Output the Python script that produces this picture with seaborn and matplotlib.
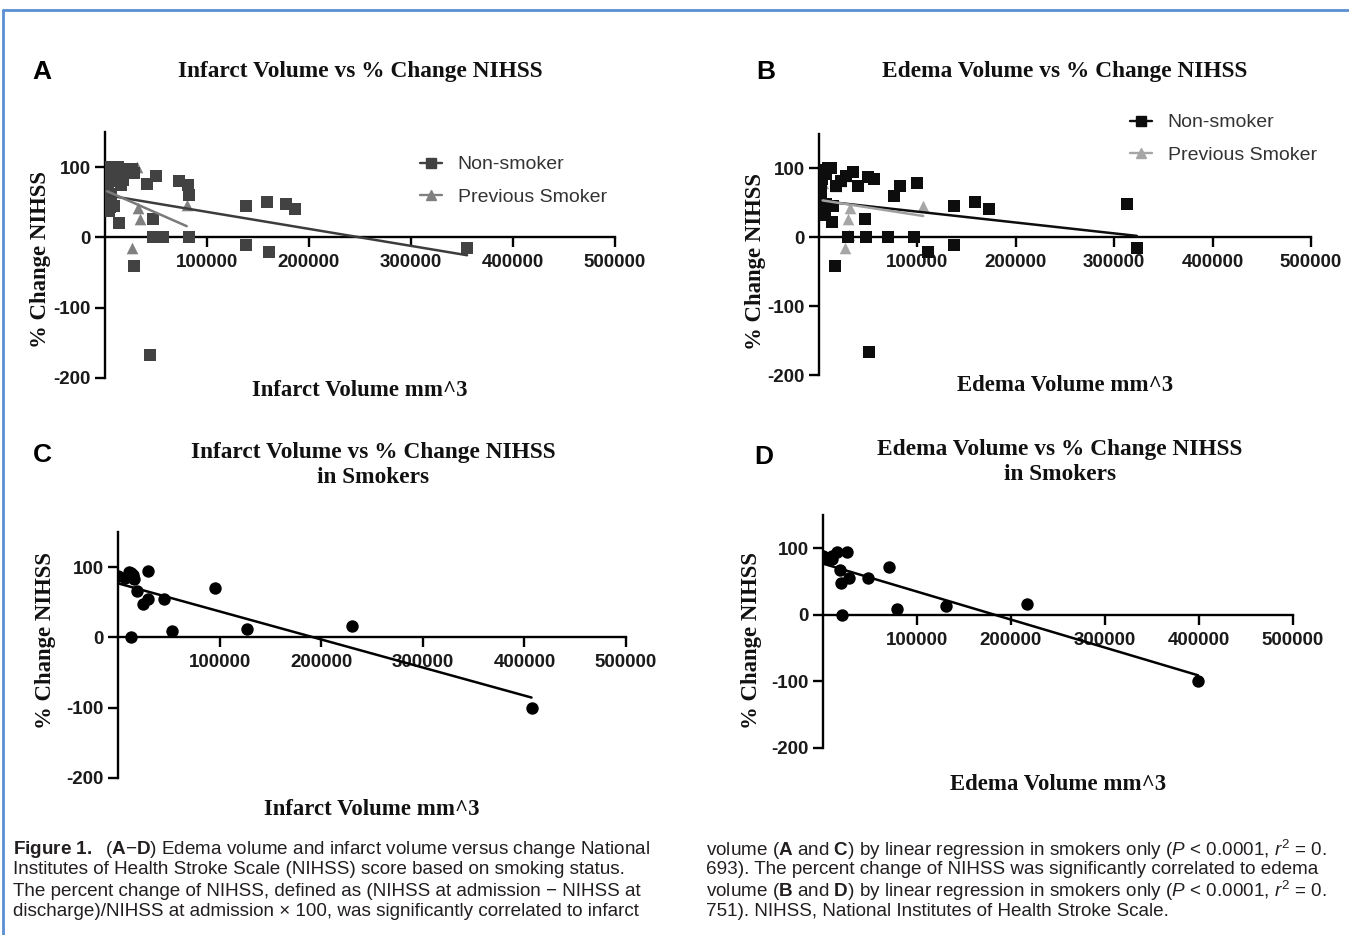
import numpy as np
import matplotlib
matplotlib.use('Agg')
import matplotlib.pyplot as plt
from matplotlib.lines import Line2D
import seaborn as sns

# A: infarct volume, all patients
a_non_x = [3000, 8000, 13000, 17000, 6000, 10000, 22000, 26000, 28000, 18000, 16000, 41000, 50000,
           73000, 81000, 82000, 138000, 159000, 177000, 186000, 47000, 14000, 47000, 52000, 57000,
           82000, 138000, 161000, 28000, 44000, 355000, 3000, 3000, 5000, 4000, 9000, 4000, 6000]
a_non_y = [100, 100, 100, 98, 92, 88, 95, 97, 92, 82, 75, 76, 87,
           80, 75, 60, 45, 51, 48, 41, 26, 20, 0, 0, 0,
           0, -11, -21, -41, -167, -15, 68, 55, 44, 37, 45, 80, 62]
a_prev_x = [2000, 26100, 31000, 32600, 34300, 54600, 80100, 5000]
a_prev_y = [78.6, -15.7, 99.6, 42.4, 26.7, 2, 45.7, 88]

# B: edema volume, all patients
b_non_x = [4000, 9000, 12500, 17500, 22600, 27700, 34500, 39500, 49700, 55400, 76000, 82400, 99300,
           137500, 158400, 172300, 313000, 323000, 46300, 13200, 29400, 47300, 70000, 97000, 110500,
           137500, 16500, 50700, 2400, 2400, 4000, 5700, 7400, 14000, 3000, 7000]
b_non_y = [98, 100, 100, 74, 82, 89, 95, 75, 88, 85, 60, 74, 79,
           45, 51, 41, 48, -15, 27, 22, 0, 0, 0, 0, -21,
           -11, -41, -166, 69, 55, 40, 33, 48, 45, 85, 92]
b_prev_x = [3700, 26400, 29700, 30000, 31500, 105900, 17500, 22600, 27700]
b_prev_y = [79, -16, 26, 3, 42, 45, 74, 82, 89]

# C / D: smokers only
c_x = [0, 6600, 10800, 13100, 14800, 15800, 29500, 19000, 24600, 29500, 45300, 12500, 53500,
       95900, 127400, 230000, 407000]
c_y = [87, 85, 93, 91, 89, 83, 95, 66, 48, 55, 55, 0, 9, 71, 12, 16, -100]
d_x = [0, 4600, 9200, 10000, 15200, 25900, 17700, 18800, 27700, 47900, 19900, 78400, 70200,
       131200, 216700, 399000]
d_y = [88, 86, 88, 84, 94, 95, 67, 48, 56, 56, 0, 9, 72, 13, 16, -100]

x_ticks = [100000, 200000, 300000, 400000, 500000]
x_tick_labels = ['100000', '200000', '300000', '400000', '500000']
y_ticks = [-200, -100, 0, 100]
y_tick_labels = ['-200', '-100', '0', '100']
series_labels = ['Non-smoker', 'Previous Smoker']

sns.set_theme(style='ticks')
plt.rcParams['font.family'] = ['Liberation Sans', 'DejaVu Sans']
plt.rcParams['mathtext.fontset'] = 'custom'
plt.rcParams['mathtext.rm'] = 'Liberation Sans'
plt.rcParams['mathtext.it'] = 'Liberation Sans:italic'
plt.rcParams['mathtext.bf'] = 'Liberation Sans:bold'
SERIF = 'Liberation Serif'

W, H = 1349, 935
fig = plt.figure(figsize=(W / 100, H / 100), dpi=100)


def px_ax(x0, x1, ytop, ybot):
    return fig.add_axes([x0 / W, 1 - ybot / H, (x1 - x0) / W, (ybot - ytop) / H])


def style(ax, xlabel, xl_y, yl_x, yl_y):
    ax.set_xlim(0, 500000)
    ax.set_ylim(-200, 150)
    ax.spines['bottom'].set_position(('data', 0))
    ax.spines[['top', 'right']].set_visible(False)
    for s in ['left', 'bottom']:
        ax.spines[s].set_linewidth(1.7)
        ax.spines[s].set_color('black')
    ax.set_xticks(x_ticks)
    ax.set_xticklabels(x_tick_labels)
    ax.set_yticks(y_ticks)
    ax.set_yticklabels(y_tick_labels)
    ax.tick_params(direction='out', length=7, width=1.7, color='black', labelsize=13.5,
                   labelcolor='#1a1a1a')
    ax.tick_params(axis='x', pad=5)
    ax.tick_params(axis='y', pad=3)
    for t in ax.get_xticklabels() + ax.get_yticklabels():
        t.set_fontweight('bold')
    ax.set_xlabel(xlabel, fontfamily=SERIF, fontweight='bold', fontsize=16.4, color='#111')
    ax.xaxis.set_label_coords(0.5, xl_y)
    ax.set_ylabel('% Change NIHSS', fontfamily=SERIF, fontweight='bold', fontsize=16.4, color='#111')
    ax.yaxis.set_label_coords(yl_x, yl_y)


def reg(ax, x, y, color, z=4):
    sns.regplot(x=np.array(x, float), y=np.array(y, float), scatter=False, ci=None, truncate=True,
                color=color, line_kws={'lw': 1.8, 'zorder': z}, ax=ax)


# Panel A
axA = px_ax(105, 615, 132, 378)
sns.scatterplot(x=a_prev_x, y=a_prev_y, marker='^', s=70, color='#808080', linewidth=0, ax=axA, zorder=2)
sns.scatterplot(x=a_non_x, y=a_non_y, marker='s', s=85, color='#424242', linewidth=0, ax=axA, zorder=3)
reg(axA, a_non_x, a_non_y, '#3c3c3c')
reg(axA, a_prev_x, a_prev_y, '#7a7a7a', 5)
style(axA, 'Infarct Volume mm^3', -0.01, -0.106, 0.48)

# Panel B
axB = px_ax(819, 1311, 134, 375)
sns.scatterplot(x=b_prev_x, y=b_prev_y, marker='^', s=70, color='#a6a6a6', linewidth=0, ax=axB, zorder=2)
sns.scatterplot(x=b_non_x, y=b_non_y, marker='s', s=85, color='#0d0d0d', linewidth=0, ax=axB, zorder=3)
reg(axB, b_non_x, b_non_y, '#0d0d0d')
reg(axB, b_prev_x, b_prev_y, '#a0a0a0', 5)
style(axB, 'Edema Volume mm^3', 0.0, -0.108, 0.47)

# Panel C
axC = px_ax(118, 626, 532, 778)
sns.scatterplot(x=c_x, y=c_y, marker='o', s=80, color='black', linewidth=0, ax=axC, zorder=3)
reg(axC, c_x, c_y, 'black')
style(axC, 'Infarct Volume mm^3', -0.085, -0.123, 0.56)

# Panel D
axD = px_ax(823, 1293, 515, 748)
sns.scatterplot(x=d_x, y=d_y, marker='o', s=80, color='black', linewidth=0, ax=axD, zorder=3)
reg(axD, d_x, d_y, 'black')
style(axD, 'Edema Volume mm^3', -0.11, -0.129, 0.46)


# titles and panel letters
def ftext(x, y, s, **kw):
    fig.text(x / W, 1 - y / H, s, ha='center', va='center', **kw)


tkw = dict(fontfamily=SERIF, fontweight='bold', fontsize=16.8, color='#111')
ftext(360, 72, 'Infarct Volume vs % Change NIHSS', **tkw)
ftext(1065, 71, 'Edema Volume vs % Change NIHSS', **tkw)
ftext(373, 465, 'Infarct Volume vs % Change NIHSS\nin Smokers', linespacing=1.3, **tkw)
ftext(1060, 462, 'Edema Volume vs % Change NIHSS\nin Smokers', linespacing=1.3, **tkw)
lkw = dict(fontweight='bold', fontsize=19, color='black')
ftext(42, 72, 'A', **lkw)
ftext(766, 72, 'B', **lkw)
ftext(42, 455, 'C', **lkw)
ftext(764, 457, 'D', **lkw)


# legends
def legend(x, y, c1, c2):
    h = [Line2D([0], [0], color=c1, marker='s', ms=7, lw=1.7),
         Line2D([0], [0], color=c2, marker='^', ms=7, lw=1.7)]
    fig.legend(h, series_labels, loc='upper left', bbox_to_anchor=(x / W, 1 - y / H), frameon=False,
               fontsize=14, handlelength=1.15, handletextpad=0.8, labelspacing=0.75, borderpad=0,
               labelcolor='#333')


legend(410, 146, '#424242', '#808080')
legend(1120, 104, '#0d0d0d', '#a6a6a6')

# caption
left_lines = [
    r'$\bf{Figure\ 1.}$  ($\bf{A}$$-$$\bf{D}$) Edema volume and infarct volume versus change National',
    'Institutes of Health Stroke Scale (NIHSS) score based on smoking status.',
    'The percent change of NIHSS, defined as (NIHSS at admission \u2212 NIHSS at',
    'discharge)/NIHSS at admission \u00d7 100, was significantly correlated to infarct',
]
right_lines = [
    r'volume ($\bf{A}$ and $\bf{C}$) by linear regression in smokers only ($\it{P}$ < 0.0001, $\it{r}^2$ = 0.',
    '693). The percent change of NIHSS was significantly correlated to edema',
    r'volume ($\bf{B}$ and $\bf{D}$) by linear regression in smokers only ($\it{P}$ < 0.0001, $\it{r}^2$ = 0.',
    '751). NIHSS, National Institutes of Health Stroke Scale.',
]
cap_y = [850, 870, 891, 912]
for yy, s in zip(cap_y, left_lines):
    fig.text(13 / W, 1 - yy / H, s, ha='left', va='center', fontsize=13.6, color='#231f20')
for yy, s in zip(cap_y, right_lines):
    fig.text(706 / W, 1 - yy / H, s, ha='left', va='center', fontsize=13.6, color='#231f20')

# page frame
fig.add_artist(Line2D([0.0025, 0.0025], [0, 1 - 10 / H], transform=fig.transFigure, color='#5b8fd4', lw=2))
fig.add_artist(Line2D([0.0025, 1], [1 - 10 / H, 1 - 10 / H], transform=fig.transFigure, color='#5b8fd4', lw=2))

fig.savefig('out.png', dpi=100)
